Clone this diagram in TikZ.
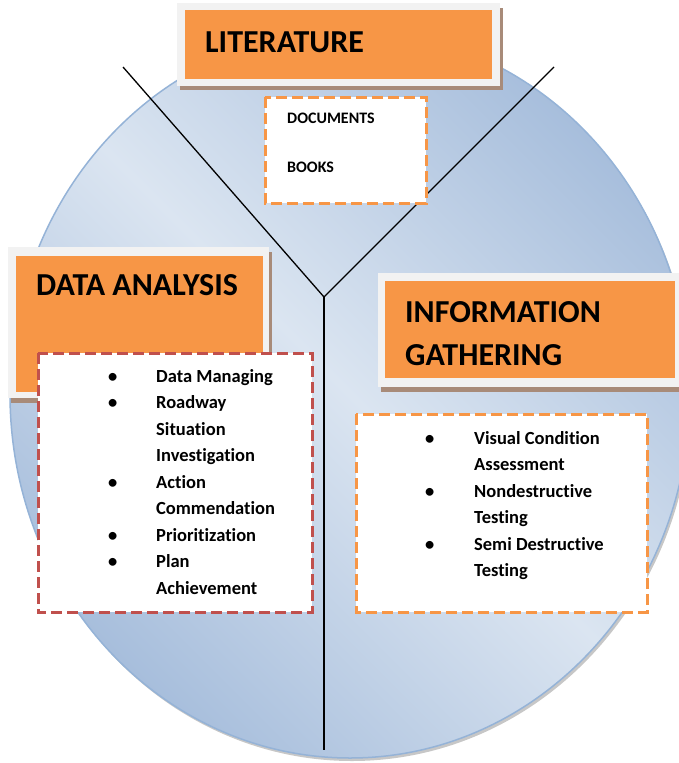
\documentclass[tikz,border=0pt]{standalone}
\usepackage{fontspec}
\setmainfont{Carlito}[Ligatures={NoCommon}]
\usetikzlibrary{positioning}

\definecolor{barorange}{HTML}{F79646}
\definecolor{framegray}{HTML}{F2F2F2}
\definecolor{shadowbrown}{HTML}{A88B79}
\definecolor{listred}{HTML}{C0504D}
\definecolor{circdark}{HTML}{A7BEDC}
\definecolor{circlight}{HTML}{DBE5F1}
\definecolor{circedge}{HTML}{95B3D7}

\tikzset{
  titletext/.style={anchor=base west, inner sep=0pt, font=\bfseries\fontsize{32}{43}\selectfont},
  listtext/.style={anchor=base west, inner sep=0pt, font=\bfseries\fontsize{18.5}{26.5}\selectfont},
  listbox/.style={fill=white, line width=3pt, dash pattern=on 11pt off 5pt},
}

\begin{document}
\begin{tikzpicture}[x=1pt, y=-1pt]
        \clip (0,0) rectangle (679,763);

        % background circle with its shadow
        \fill[black!22] (352,397) ellipse [x radius=340, y radius=364];
        \shade[top color=circdark, bottom color=circdark, middle color=circlight, shading angle=-45]
            (350,394) ellipse [x radius=340, y radius=364];
        \draw[circedge, line width=1.5pt] (350,394) ellipse [x radius=340, y radius=364];

        % the Y
        \coordinate (ytopl) at (123,67);
        \coordinate (ytopr) at (554,67);
        \coordinate (yjoin) at (324,297);
        \coordinate (ybot) at (324,750);
        \draw[line width=1.3pt] (ytopl) -- (yjoin) -- (ytopr);
        \draw[line width=1.3pt] (yjoin) -- (ybot);

        % literature title
        \fill[shadowbrown] (180,8) rectangle (503,90);
        \fill[framegray] (177,3) rectangle (500,86);
        \fill[barorange] (185,10) rectangle (492,79);
        \node[titletext] (littitle) at (205,52) {LITERATURE};

        % literature items
        \draw[listbox, draw=barorange] (265,97) rectangle (426,203);
        \node[titletext, font=\bfseries\fontsize{16}{19}\selectfont] (docs) at (287,123) {DOCUMENTS};
        \node[titletext, font=\bfseries\fontsize{16}{19}\selectfont] (books) at (287,172) {BOOKS};

        % data analysis title
        \fill[shadowbrown] (11,252) rectangle (272,403);
        \fill[framegray] (8,247) rectangle (269,398);
        \fill[barorange] (16,256) rectangle (263,392);
        \node[titletext] (datatitle) at (36,295) {DATA ANALYSIS};

        % data analysis items
        \draw[listbox, draw=listred] (38,353) rectangle (312,612);
        \node[listtext] (datalist) at (108,382) {%
            \begin{tabular}[t]{@{}p{48pt}@{}l@{}}
            \textbullet & Data Managing\\
            \textbullet & Roadway\\
                        & Situation\\
                        & Investigation\\
            \textbullet & Action\\
                        & Commendation\\
            \textbullet & Prioritization\\
            \textbullet & Plan\\
                        & Achievement
            \end{tabular}};

        % information gathering title
        \fill[shadowbrown] (381,278) rectangle (682,392);
        \fill[framegray] (378,273) rectangle (679,387);
        \fill[barorange] (385,281) rectangle (675,378);
        \node[titletext] (infotitle) at (405,322) {%
            \begin{tabular}[t]{@{}l@{}}
            INFORMATION\\
            GATHERING
            \end{tabular}};

        % information gathering items
        \draw[listbox, draw=barorange] (356,414) rectangle (647,612);
        \node[listtext] (infolist) at (425,444) {%
            \begin{tabular}[t]{@{}p{49pt}@{}l@{}}
            \textbullet & Visual Condition\\
                        & Assessment\\
            \textbullet & Nondestructive\\
                        & Testing\\
            \textbullet & Semi Destructive\\
                        & Testing
            \end{tabular}};
    \end{tikzpicture}
\end{document}
